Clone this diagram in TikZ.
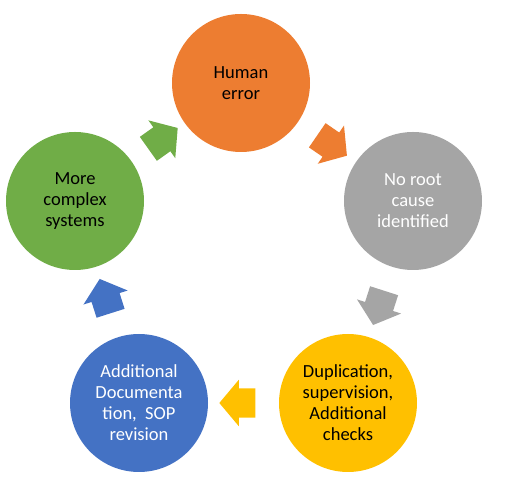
\documentclass[tikz,border=0pt]{standalone}
\usepackage{fontspec}
\setmainfont{Carlito}
\usetikzlibrary{shapes.arrows,calc}

\definecolor{cyorange}{HTML}{ED7D31}
\definecolor{cygray}{HTML}{A5A5A5}
\definecolor{cyyellow}{HTML}{FFC000}
\definecolor{cyblue}{HTML}{4472C4}
\definecolor{cygreen}{HTML}{70AD47}

\begin{document}
\begin{tikzpicture}[
						x=1pt, y=1pt,
						main/.style = {circle, minimum size=138pt, inner sep=0pt, align=center, font=\fontsize{18.5}{21}\selectfont},
						blk/.style = {single arrow, minimum height=36pt, single arrow head extend=8.5pt, single arrow tip angle=100, inner xsep=0pt, inner ysep=14.5pt}
					]
					\useasboundingbox (0,0) rectangle (530,497);
					\node[main, fill=cyorange] (he) at (241,414) {Human\\error};
					\node[main, fill=cygray, text=white] (nr) at (413,296) {No root\\cause\\identified};
					\node[main, fill=cyyellow] (dup) at (348,94) {Duplication,\\supervision,\\Additional\\checks};
					\node[main, fill=cyblue, text=white] (ad) at (139,94) {Additional\\Documenta\\tion,\ \ SOP\\revision};
					\node[main, fill=cygreen] (mc) at (75,296) {More\\complex\\systems};
					% arrows round the cycle
					\node[blk, fill=cyorange, rotate=-34.5] (a1) at ($(he)!0.5!(nr)$) {};
					\node[blk, fill=cygray, rotate=-107.8] (a2) at ($(nr)!0.5!(dup)$) {};
					\node[blk, fill=cyyellow, rotate=180] (a3) at ($(dup)!0.5!(ad)$) {};
					\node[blk, fill=cyblue, rotate=107.6] (a4) at ($(ad)!0.5!(mc)$) {};
					\node[blk, fill=cygreen, rotate=35.4] (a5) at ($(mc)!0.5!(he)$) {};
				\end{tikzpicture}
\end{document}
